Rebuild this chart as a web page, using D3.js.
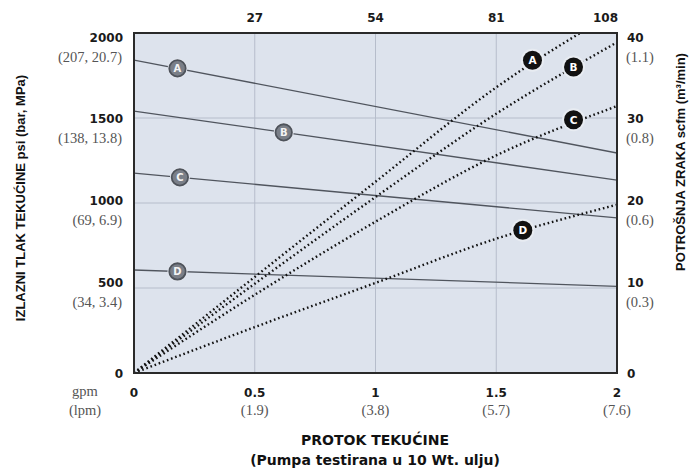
<!DOCTYPE html>
<html><head><meta charset="utf-8">
<script src="https://cdn.jsdelivr.net/npm/d3@7"></script>
<style>
html,body{margin:0;padding:0;background:#fff;}
svg{display:block;}
.tick-b{font-family:"DejaVu Sans",sans-serif;font-weight:bold;font-size:12px;fill:#1a1a1a;}
.tick-s{font-family:"Liberation Serif",serif;font-size:14.5px;fill:#555;}
.title{font-family:"Liberation Sans",Arial,sans-serif;font-weight:bold;font-size:13px;fill:#111;}
.title-b{font-family:"DejaVu Sans",sans-serif;font-weight:bold;font-size:14px;fill:#111;}
</style></head>
<body>
<script>
// ---- data ----
const gpmTicks = [0, 0.5, 1, 1.5, 2];
const lpmLabels = ["", "(1.9)", "(3.8)", "(5.7)", "(7.6)"];
const topTicks = [0.5, 1, 1.5, 2];
const topLabels = ["27", "54", "81", "108"];
const psiTicks = [0, 500, 1000, 1500, 2000];
const barLabels = ["", "(34, 3.4)", "(69, 6.9)", "(138, 13.8)", "(207, 20.7)"];
const scfmTicks = [0, 10, 20, 30, 40];
const m3Labels = ["", "(0.3)", "(0.6)", "(0.8)", "(1.1)"];

const seriesNames = ["A", "B", "C", "D"];
// outlet fluid pressure (psi) at gpm 0 and gpm 2
const pressureGpm = [0, 2];
const pressureA = [1841, 1294];
const pressureB = [1541, 1135];
const pressureC = [1176, 912];
const pressureD = [606, 510];
// air consumption (scfm) vs flow (gpm)
const airGpm = [0, 0.5, 1, 1.5, 2];
const airA = [0, 11.3, 22.5, 33.6, 42.6];
const airB = [0, 10.5, 20.7, 30.5, 38.9];
const airC = [0, 9.2, 17.8, 25.6, 31.4];
const airD = [0, 5.4, 10.6, 15.8, 19.8];
// label positions
const pressureLabelGpm = [0.18, 0.62, 0.19, 0.18];
const airLabelGpm = [1.65, 1.82, 1.82, 1.61];
const airLabelScfm = [36.8, 36.0, 29.8, 16.8];

const W = 696, H = 473;
const L = 134, R = 617, T = 33, B = 373;

const svg = d3.select("body").append("svg").attr("width", W).attr("height", H);

const x = d3.scaleLinear().domain([0, 2]).range([L, R]);
const yP = d3.scaleLinear().domain([0, 2000]).range([B, T]);
const yA = d3.scaleLinear().domain([0, 40]).range([B, T]);
// tick label placement (labels of the original sit slightly off the gridlines)
const labP = v => v === 0 ? B : d3.scaleLinear().domain([500, 2000]).range([282, 37])(v);
const labA = v => v === 0 ? B : d3.scaleLinear().domain([10, 40]).range([282, 37])(v);

// background
svg.append("rect").attr("x", L).attr("y", T).attr("width", R - L).attr("height", B - T).attr("fill", "#dde3ed");

svg.append("defs").append("clipPath").attr("id", "plot")
  .append("rect").attr("x", L).attr("y", T).attr("width", R - L).attr("height", B - T);

// grid
const g = svg.append("g");
g.selectAll(".vg").data(gpmTicks.slice(1, -1)).join("line")
  .attr("x1", d => x(d)).attr("x2", d => x(d)).attr("y1", T).attr("y2", B)
  .attr("stroke", "#b6bdcb").attr("stroke-width", 1);
g.selectAll(".hg").data(psiTicks.slice(1, -1)).join("line")
  .attr("x1", L).attr("x2", R).attr("y1", d => yP(d)).attr("y2", d => yP(d))
  .attr("stroke", "#b6bdcb").attr("stroke-width", 1);

const plot = svg.append("g").attr("clip-path", "url(#plot)");

const pressures = [pressureA, pressureB, pressureC, pressureD];
const airs = [airA, airB, airC, airD];

const lineP = d3.line().x(d => x(d[0])).y(d => yP(d[1]));
const lineA = d3.line().x(d => x(d[0])).y(d => yA(d[1])).curve(d3.curveMonotoneX);

pressures.forEach(p => {
  plot.append("path").datum(pressureGpm.map((g0, i) => [g0, p[i]]))
    .attr("d", lineP).attr("fill", "none").attr("stroke", "#50555e").attr("stroke-width", 1.3);
});
airs.forEach(a => {
  plot.append("path").datum(airGpm.map((g0, i) => [g0, a[i]]))
    .attr("d", lineA).attr("fill", "none").attr("stroke", "#111")
    .attr("stroke-width", 2.4).attr("stroke-dasharray", "1.6,2.8");
});

// border
svg.append("rect").attr("x", L).attr("y", T).attr("width", R - L).attr("height", B - T)
  .attr("fill", "none").attr("stroke", "#2a2a2a").attr("stroke-width", 2);

// markers
function interp(xs, ys, v) {
  return ys[0] + (ys[1] - ys[0]) * (v - xs[0]) / (xs[1] - xs[0]);
}
seriesNames.forEach((n, i) => {
  const gx = pressureLabelGpm[i];
  const cx = x(gx), cy = yP(interp(pressureGpm, pressures[i], gx));
  svg.append("circle").attr("cx", cx).attr("cy", cy).attr("r", 10).attr("fill", "#e2e6ee");
  svg.append("circle").attr("cx", cx).attr("cy", cy).attr("r", 8.2).attr("fill", "#7a7f88")
    .attr("stroke", "#4e535b").attr("stroke-width", 1.8);
  svg.append("text").attr("x", cx).attr("y", cy + 3.8).attr("text-anchor", "middle")
    .attr("font-family", "DejaVu Sans").attr("font-weight", "bold").attr("font-size", 10)
    .attr("fill", "#f4f4f4").text(n);
});
seriesNames.forEach((n, i) => {
  const cx = x(airLabelGpm[i]), cy = yA(airLabelScfm[i]);
  svg.append("circle").attr("cx", cx).attr("cy", cy).attr("r", 11.5).attr("fill", "#e8ecf2");
  svg.append("circle").attr("cx", cx).attr("cy", cy).attr("r", 9.5).attr("fill", "#111");
  svg.append("text").attr("x", cx).attr("y", cy + 4).attr("text-anchor", "middle")
    .attr("font-family", "DejaVu Sans").attr("font-weight", "bold").attr("font-size", 10.5)
    .attr("fill", "#fff").text(n);
});

// bottom axis labels
svg.selectAll(".bx").data(gpmTicks).join("text").attr("class", "tick-b")
  .attr("x", d => x(d)).attr("y", 397).attr("text-anchor", "middle").text(d => d3.format("~g")(d));
svg.selectAll(".bx2").data(gpmTicks).join("text").attr("class", "tick-s")
  .attr("x", d => x(d)).attr("y", 415).attr("text-anchor", "middle").text((d, i) => lpmLabels[i]);
svg.append("text").attr("class", "tick-s").attr("x", 85).attr("y", 396).attr("text-anchor", "middle").text("gpm");
svg.append("text").attr("class", "tick-s").attr("x", 85).attr("y", 415).attr("text-anchor", "middle").text("(lpm)");

// top axis
svg.selectAll(".tx").data(topTicks).join("text").attr("class", "tick-b")
  .attr("x", d => d === 2 ? x(d) + 1 : x(d)).attr("y", 22)
  .attr("text-anchor", d => d === 2 ? "end" : "middle").text((d, i) => topLabels[i]);

// left axis
svg.selectAll(".ly").data(psiTicks).join("text").attr("class", "tick-b")
  .attr("x", 123).attr("y", d => labP(d) + 4.5)
  .attr("text-anchor", "end").text(d => d);
svg.selectAll(".ly2").data(psiTicks).join("text").attr("class", "tick-s")
  .attr("x", 122).attr("y", d => labP(d) + 24.5)
  .attr("text-anchor", "end").text((d, i) => barLabels[i]);

// right axis
svg.selectAll(".ry").data(scfmTicks).join("text").attr("class", "tick-b")
  .attr("x", 627).attr("y", d => labA(d) + 4.5)
  .attr("text-anchor", "start").text(d => d);
svg.selectAll(".ry2").data(scfmTicks).join("text").attr("class", "tick-s")
  .attr("x", 626).attr("y", d => labA(d) + 24.5)
  .attr("text-anchor", "start").text((d, i) => m3Labels[i]);

// titles
svg.append("text").attr("class", "title").attr("text-anchor", "middle")
  .attr("transform", "translate(25,198) rotate(-90)").text("IZLAZNI TLAK TEKUĆINE psi (bar, MPa)");
svg.append("text").attr("class", "title").attr("text-anchor", "middle")
  .attr("transform", "translate(685,162) rotate(-90)").text("POTROŠNJA ZRAKA scfm (m³/min)");
svg.append("text").attr("class", "title-b").attr("text-anchor", "middle")
  .attr("x", 375).attr("y", 445).text("PROTOK TEKUĆINE");
svg.append("text").attr("class", "title-b").attr("text-anchor", "middle")
  .attr("x", 375).attr("y", 465).text("(Pumpa testirana u 10 Wt. ulju)");
</script>
</body></html>
